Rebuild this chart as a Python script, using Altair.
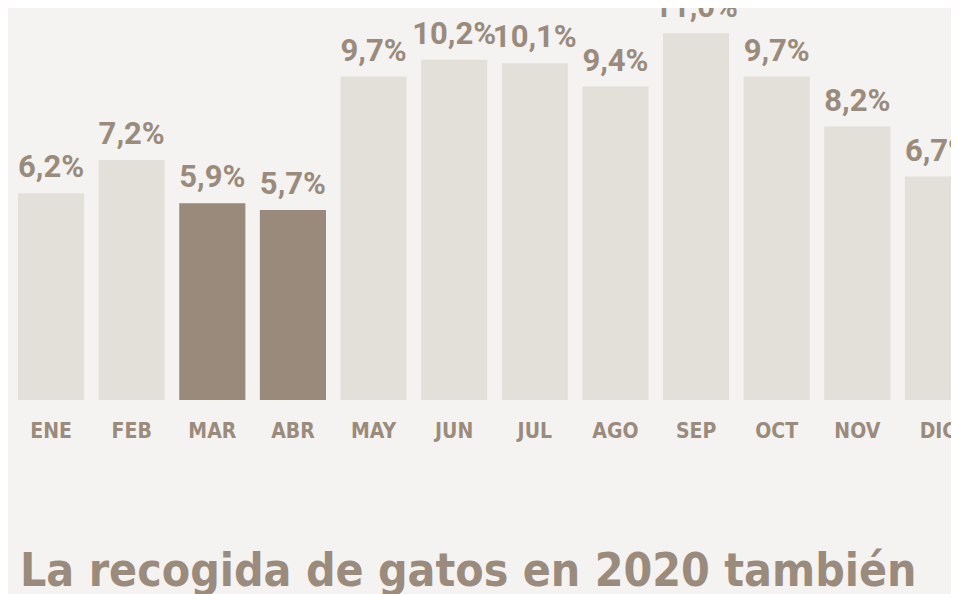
import altair as alt
import pandas as pd

months = ["ENE", "FEB", "MAR", "ABR", "MAY", "JUN", "JUL", "AGO", "SEP", "OCT", "NOV", "DIC"]
values = [6.2, 7.2, 5.9, 5.7, 9.7, 10.2, 10.1, 9.4, 11.0, 9.7, 8.2, 6.7]
highlight = ["no", "no", "sí", "sí", "no", "no", "no", "no", "no", "no", "no", "no"]
title_text = "La recogida de gatos en 2020 también"

df = pd.DataFrame({
    "mes": months,
    "valor": values,
    "destacado": highlight,
    "etiqueta": [f"{v:.1f}".replace(".", ",") + "%" for v in values],
})

BG = "#f4f3f1"
LIGHT = "#e3e0da"
DARK = "#998a7c"
TEXT = "#9a8b7c"

x = alt.X(
    "mes:N",
    sort=None,
    scale=alt.Scale(range=[10, 963], paddingInner=0.18, paddingOuter=0, round=False),
    axis=alt.Axis(
        title=None, domain=False, ticks=False, labelAngle=0,
        labelFont="DejaVu Sans Condensed", labelFontWeight="bold",
        labelFontSize=21, labelColor=TEXT, labelPadding=20,
    ),
)
y = alt.Y("valor:Q", scale=alt.Scale(domain=[0, 11.754], nice=False), axis=None)

bars = alt.Chart(df).mark_bar().encode(
    x=x,
    y=y,
    color=alt.Color("destacado:N", scale=alt.Scale(domain=["no", "sí"], range=[LIGHT, DARK]), legend=None),
)

labels = alt.Chart(df).mark_text(
    baseline="alphabetic", dy=-16, font="Roboto", fontWeight="bold", fontSize=31, color=TEXT,
).encode(x=x, y=y, text="etiqueta:N")

chart = alt.layer(bars, labels).properties(
    width=943,
    height=392,
    background=BG,
    padding={"left": 0, "top": 0, "right": 0, "bottom": 194},
    autosize=alt.AutoSizeParams(type="none"),
    title=alt.TitleParams(
        title_text, orient="bottom", anchor="start", frame="group",
        font="DejaVu Sans Condensed", fontWeight="bold", fontSize=46, color=TEXT,
        offset=109, dx=12,
    ),
).configure_view(stroke=None)

chart.save("out.html", embed_options={"renderer": "svg", "actions": False})
